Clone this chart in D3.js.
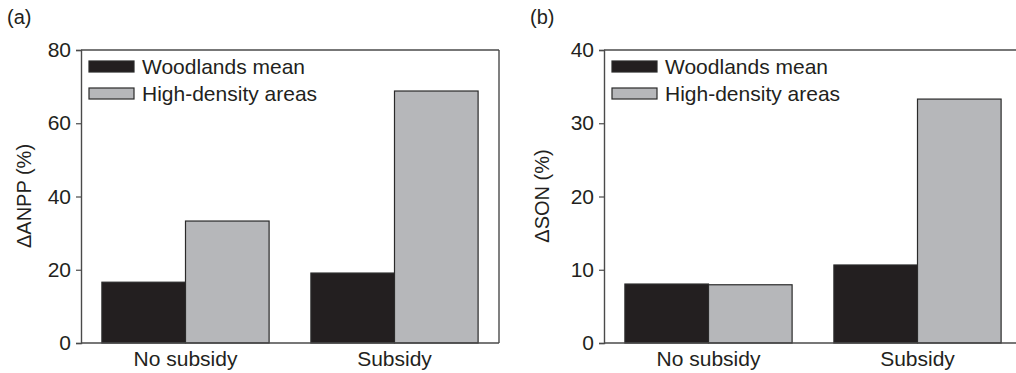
<!DOCTYPE html>
<html>
<head>
<meta charset="utf-8">
<script src="https://cdn.jsdelivr.net/npm/d3@7"></script>
<style>
  body { margin: 0; background: #fff; }
  text { font-family: "Liberation Sans", Arial, sans-serif; fill: #231f20; }
</style>
</head>
<body>
<div id="chart"></div>
<script>
  // data
  var categories = ["No subsidy", "Subsidy"];
  var seriesNames = ["Woodlands mean", "High-density areas"];
  var anppWoodlands = [16.6, 19.1];
  var anppHighDensity = [33.3, 68.8];
  var sonWoodlands = [8.05, 10.65];
  var sonHighDensity = [7.95, 33.3];
  var anppTicks = [0, 20, 40, 60, 80];
  var sonTicks = [0, 10, 20, 30, 40];

  var colors = ["#231f20", "#b6b7ba"];

  var svg = d3.select("#chart")
    .append("svg")
    .attr("width", 1016)
    .attr("height", 373);

  var width = 418, height = 293;

  function panel(left, letter, letterX, title, titleX, domainMax, ticks, s1, s2, rightBorder) {
    var g = svg.append("g").attr("transform", "translate(" + left + ",50)");

    var x0 = d3.scaleBand().domain(categories).range([0, width])
      .paddingInner(0.2).paddingOuter(0.1);
    var x1 = d3.scaleBand().domain(seriesNames).range([0, x0.bandwidth()]);
    var y = d3.scaleLinear().domain([0, domainMax]).range([height, 0]);

    var rows = categories.map(function(c, i) {
      return { cat: c, values: [s1[i], s2[i]] };
    });

    // bars
    g.selectAll(".grp")
      .data(rows)
      .enter().append("g")
      .attr("transform", function(d) { return "translate(" + x0(d.cat) + ",0)"; })
      .selectAll("rect")
      .data(function(d) { return d.values.map(function(v, j) { return { name: seriesNames[j], v: v, j: j }; }); })
      .enter().append("rect")
      .attr("x", function(d) { return x1(d.name); })
      .attr("y", function(d) { return y(d.v); })
      .attr("width", x1.bandwidth())
      .attr("height", function(d) { return height - y(d.v); })
      .style("fill", function(d) { return colors[d.j]; })
      .style("stroke", "#2a2a2a")
      .style("stroke-width", 1.2);

    // frame: top, bottom (+ right for panel a)
    var frame = g.append("g").style("stroke", "#4a4a4a").style("stroke-width", 1.4).style("fill", "none");
    frame.append("line").attr("x1", 0).attr("x2", width).attr("y1", 0).attr("y2", 0);
    frame.append("line").attr("x1", 0).attr("x2", width).attr("y1", height).attr("y2", height);
    if (rightBorder) {
      frame.append("line").attr("x1", width).attr("x2", width).attr("y1", 0).attr("y2", height);
    }

    // y axis
    var ax = g.append("g")
      .call(d3.axisLeft(y).tickValues(ticks).tickSize(5).tickPadding(5));
    ax.select(".domain").style("stroke", "#4a4a4a").style("stroke-width", 1.4);
    ax.selectAll(".tick line").style("stroke", "#4a4a4a").style("stroke-width", 1.2);
    ax.selectAll("text")
      .style("font-size", "21px")
      .style("font-family", "Liberation Sans, Arial, sans-serif")
      .style("fill", "#231f20");

    // x labels
    g.selectAll(".xlab")
      .data(categories)
      .enter().append("text")
      .attr("x", function(d) { return x0(d) + x0.bandwidth() / 2; })
      .attr("y", height + 23)
      .attr("text-anchor", "middle")
      .style("font-size", "21px")
      .text(function(d) { return d; });

    // legend
    seriesNames.forEach(function(n, i) {
      g.append("rect")
        .attr("x", 8).attr("y", 11 + i * 27)
        .attr("width", 45).attr("height", 11)
        .style("fill", colors[i])
        .style("stroke", "#2a2a2a")
        .style("stroke-width", 1.2);
      g.append("text")
        .attr("x", 61).attr("y", 24 + i * 27)
        .style("font-size", "21px")
        .text(n);
    });

    // y title
    svg.append("text")
      .attr("transform", "translate(" + titleX + ",196) rotate(-90)")
      .attr("text-anchor", "middle")
      .style("font-size", "20px")
      .text(title);

    // panel letter
    svg.append("text")
      .attr("x", letterX).attr("y", 24)
      .style("font-size", "20px")
      .text(letter);
  }

  panel(81, "(a)", 7, "\u0394ANPP (%)", 31, 80, anppTicks, anppWoodlands, anppHighDensity, true);
  panel(604, "(b)", 530, "\u0394SON (%)", 549, 40, sonTicks, sonWoodlands, sonHighDensity, false);
</script>
</body>
</html>
